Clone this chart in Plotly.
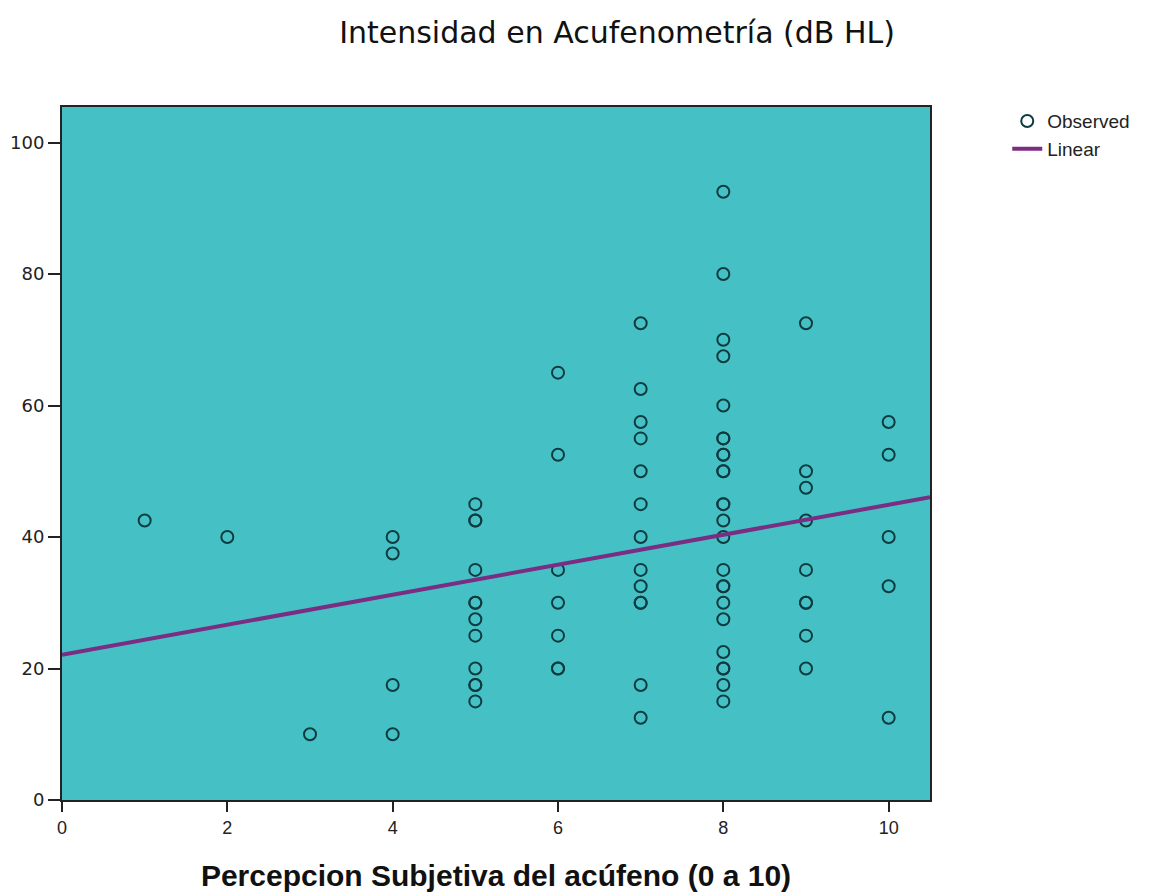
import plotly.graph_objects as go

# Observed data (x: perception 0-10, y: intensity dB HL)
x_vals = ([1, 2, 3] + [4] * 4 + [5] * 12 + [6] * 7 + [7] * 13 + [8] * 25 + [9] * 9 + [10] * 5)
y_vals = (
    [42.5, 40, 10]
    + [40, 37.5, 17.5, 10]
    + [45, 42.5, 42.5, 35, 30, 30, 27.5, 25, 20, 17.5, 17.5, 15]
    + [65, 52.5, 35, 30, 25, 20, 20]
    + [72.5, 62.5, 57.5, 55, 50, 45, 40, 35, 32.5, 30, 30, 17.5, 12.5]
    + [92.5, 80, 70, 67.5, 60, 55, 55, 52.5, 52.5, 50, 50, 45, 45, 42.5, 40, 35,
       32.5, 32.5, 30, 27.5, 22.5, 20, 20, 17.5, 15]
    + [72.5, 50, 47.5, 42.5, 35, 30, 30, 25, 20]
    + [57.5, 52.5, 40, 32.5, 12.5]
)

# Linear fit
fit_intercept = 22.1
fit_slope = 2.28
x_range = [0, 10.5]
y_range = [0, 105.4]
x_ticks = [0, 2, 4, 6, 8, 10]
y_ticks = [0, 20, 40, 60, 80, 100]

fit_x = x_range
fit_y = [fit_intercept + fit_slope * v for v in fit_x]

fig = go.Figure()
fig.add_trace(go.Scatter(
    x=x_vals, y=y_vals, mode="markers", name="Observed",
    marker=dict(symbol="circle-open", size=12, color="#0d3b40",
                line=dict(width=2, color="#0d3b40")),
))
fig.add_trace(go.Scatter(
    x=fit_x, y=fit_y, mode="lines", name="Linear",
    line=dict(color="#7b2c83", width=4),
))

fig.update_layout(
    width=1147, height=884,
    margin=dict(l=54, r=225, t=99, b=92),
    paper_bgcolor="white",
    plot_bgcolor="#45c1c5",
    font=dict(family="Liberation Sans, Arial, sans-serif", color="#222"),
    title=dict(text="Intensidad en Acufenometría (dB HL)", x=0.531, xanchor="center",
               y=0.972, yanchor="middle",
               font=dict(size=30, color="#111", family="DejaVu Sans, sans-serif")),
    showlegend=True,
    legend=dict(x=1.089, y=1.007, xanchor="left", yanchor="top",
                bgcolor="rgba(0,0,0,0)", font=dict(size=19, color="#222"),
                tracegroupgap=0, itemwidth=30),
    xaxis=dict(range=x_range, tickvals=x_ticks, showgrid=False, zeroline=False,
               automargin=False,
               showline=True, linecolor="#222", linewidth=2, mirror=True,
               ticks="outside", ticklen=10, tickwidth=2, tickcolor="#222",
               tickfont=dict(size=18, color="#222",
                             family="Liberation Sans Narrow, Arial Narrow, sans-serif"),
               title=dict(text="<b>Percepcion Subjetiva del acúfeno (0 a 10)</b>",
                          font=dict(size=30, color="#111"), standoff=33)),
    yaxis=dict(range=y_range, tickvals=y_ticks, showgrid=False, zeroline=False,
               automargin=False,
               showline=True, linecolor="#222", linewidth=2, mirror=True,
               ticks="outside", ticklen=12, tickwidth=2, tickcolor="#222",
               tickfont=dict(size=18, color="#222", family="DejaVu Sans, sans-serif")),
)

fig.write_html("out.html")
